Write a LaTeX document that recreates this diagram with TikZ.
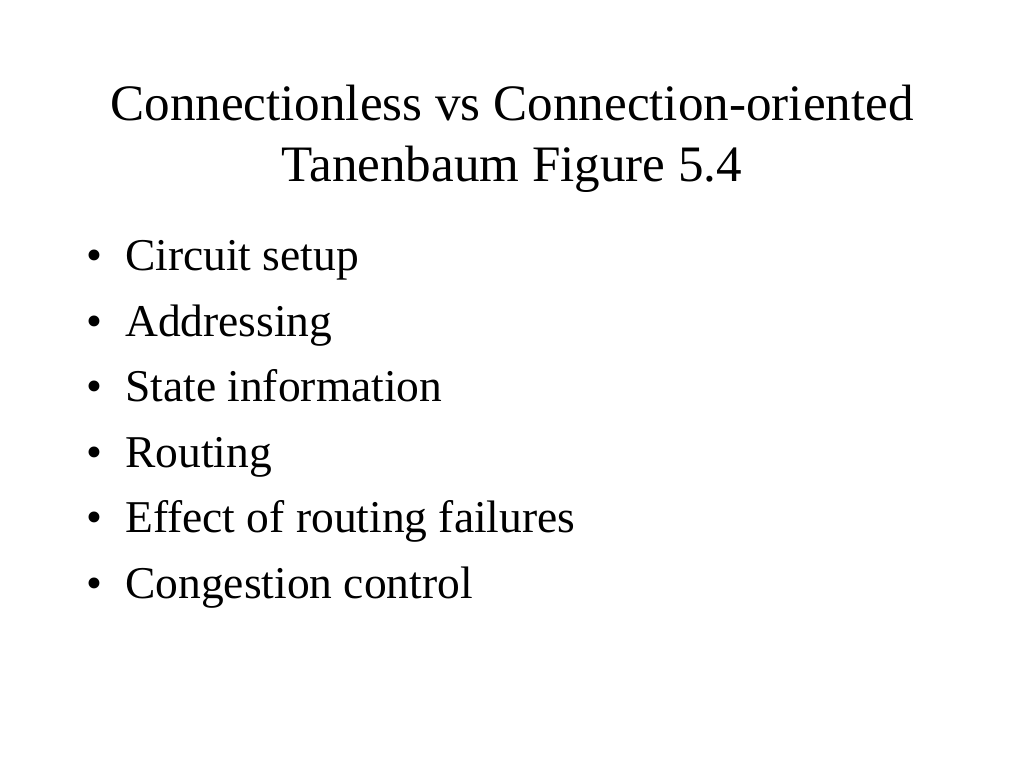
\documentclass[tikz,border=0pt]{standalone}
\usepackage{fontspec}
\setmainfont{Liberation Serif}
\begin{document}
\begin{tikzpicture}[x=1pt,y=1pt,
  titletext/.style={anchor=base,inner sep=0pt,font=\fontsize{51.1}{60}\selectfont},
  itemtext/.style={anchor=base west,inner sep=0pt,font=\fontsize{45.5}{54}\selectfont},
  bullettext/.style={anchor=base west,inner sep=0pt,font=\fontsize{45.5}{54}\selectfont}]
\useasboundingbox[fill=white] (0,0) rectangle (1024,768);
\node[titletext] (t1) at (512,647.5) {Connectionless vs Connection-oriented};
\node[titletext] (t2) at (512,586.5) {Tanenbaum Figure 5.4};
\foreach \i/\y/\txt in {1/497/Circuit setup,2/431.5/Addressing,3/366/State information,4/300.5/Routing,5/235/Effect of routing failures,6/169.5/Congestion control}{
  \node[bullettext] (b\i) at (86.5,\y) {•};
  \node[itemtext] (i\i) at (125,\y) {\txt};
}
\end{tikzpicture}
\end{document}
